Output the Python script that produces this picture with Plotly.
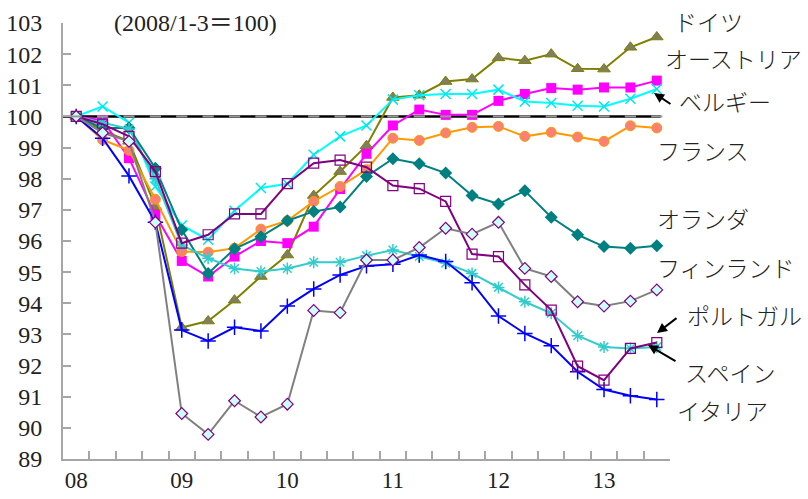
import plotly.graph_objects as go

quarters = [f"{y}Q{q}" for y in range(2008, 2014) for q in range(1, 5)][:23]
year_labels = ["08", "09", "10", "11", "12", "13"]

germany = [100, 99.55, 99.2, 97.1, 93.22, 93.43, 94.1, 94.86, 95.55, 97.46, 98.23, 99.06,
           100.61, 100.68, 101.12, 101.2, 101.88, 101.79, 102.0, 101.53, 101.52, 102.22, 102.55]
austria = [100, 99.88, 98.66, 96.84, 95.36, 94.86, 95.5, 96.0, 95.93, 96.46, 97.67, 98.8,
           99.71, 100.22, 100.05, 100.05, 100.5, 100.72, 100.91, 100.86, 100.93, 100.93, 101.15]
belgium = [100, 100.32, 99.8, 97.75, 96.5, 96.04, 96.97, 97.7, 97.84, 98.77, 99.36, 99.71,
           100.54, 100.68, 100.72, 100.72, 100.86, 100.48, 100.43, 100.34, 100.32, 100.57, 100.88]
france = [100, 99.25, 98.91, 97.34, 95.66, 95.64, 95.77, 96.38, 96.65, 97.27, 97.75, 98.29,
          99.3, 99.23, 99.47, 99.65, 99.68, 99.36, 99.49, 99.34, 99.2, 99.7, 99.63]
netherlands = [100, 99.63, 99.63, 98.34, 96.36, 94.96, 95.75, 96.14, 96.65, 96.95, 97.09, 98.07,
               98.64, 98.48, 98.18, 97.46, 97.19, 97.61, 96.76, 96.2, 95.82, 95.77, 95.85]
finland = [100, 99.47, 99.2, 96.6, 90.46, 89.79, 90.87, 90.35, 90.76, 93.77, 93.7, 95.39,
           95.39, 95.79, 96.41, 96.22, 96.6, 95.12, 94.86, 94.05, 93.91, 94.07, 94.43]
portugal = [100, 99.75, 99.36, 98.23, 95.93, 96.2, 96.87, 96.87, 97.84, 98.5, 98.6, 98.37,
            97.78, 97.68, 97.27, 95.58, 95.5, 94.59, 93.78, 91.98, 91.53, 92.55, 92.74]
spain = [100, 99.8, 99.6, 98.0, 95.87, 95.45, 95.12, 95.02, 95.12, 95.32, 95.32, 95.53,
         95.71, 95.5, 95.29, 94.96, 94.51, 94.05, 93.68, 92.96, 92.6, 92.55, 92.6]
italy = [100, 99.3, 98.09, 96.6, 93.14, 92.79, 93.23, 93.11, 93.91, 94.46, 94.91, 95.2,
         95.25, 95.55, 95.34, 94.66, 93.59, 93.03, 92.64, 91.8, 91.23, 91.03, 90.91]
base = [100] * len(quarters)

series = [
    ("ドイツ", germany, dict(color="#808000", width=2),
     dict(symbol="triangle-up", size=11, color="#7f7f60", line=dict(color="#808000", width=1))),
    ("オーストリア", austria, dict(color="#FF00FF", width=2),
     dict(symbol="square", size=10, color="#FF00FF")),
    ("ベルギー", belgium, dict(color="#00FFFF", width=2),
     dict(symbol="x-thin-open", size=10, color="#00E5EE", line=dict(width=1.5))),
    ("フランス", france, dict(color="#FF9900", width=2),
     dict(symbol="circle", size=10, color="#FA8072", line=dict(color="#FF9900", width=1))),
    ("オランダ", netherlands, dict(color="#008080", width=2),
     dict(symbol="diamond", size=10, color="#008080")),
    ("スペイン", spain, dict(color="#33CCCC", width=2),
     dict(symbol="asterisk-open", size=10, color="#33CCCC", line=dict(width=1.5))),
    ("イタリア", italy, dict(color="#0000FF", width=2),
     dict(symbol="cross-thin-open", size=11, color="#0000FF", line=dict(width=1.5))),
    ("ポルトガル", portugal, dict(color="#800080", width=2),
     dict(symbol="square-open", size=10, color="#800080", line=dict(width=1.2))),
    ("フィンランド", finland, dict(color="#808080", width=2),
     dict(symbol="diamond", size=9, color="#CCFFFF", line=dict(color="#800080", width=1.2))),
]

fig = go.Figure()
xs = list(range(len(quarters)))
xrange = [-0.5, len(quarters) - 0.5]

fig.add_shape(type="line", xref="x", yref="y", x0=-0.5, x1=len(quarters) - 0.85,
              y0=100, y1=100, line=dict(color="black", width=2.5), layer="below")
fig.add_trace(go.Scatter(x=xs, y=base, mode="markers", showlegend=False, xaxis="x2",
                         marker=dict(symbol="line-ew", size=8, color="#999999",
                                     line=dict(color="#999999", width=2)),
                         hoverinfo="skip"))

for name, vals, ln, mk in series:
    fig.add_trace(go.Scatter(x=xs, y=vals, mode="lines+markers", name=name,
                             line=ln, marker=mk, showlegend=False))

tickvals = [i for i, q in enumerate(quarters) if q.endswith("Q1")]

fig.update_layout(
    width=808, height=499,
    margin=dict(l=63, r=138, t=23, b=40, autoexpand=False),
    paper_bgcolor="white", plot_bgcolor="white",
    font=dict(family="Liberation Serif, serif", size=24, color="#222222"),
    xaxis=dict(range=xrange, tickmode="linear", tick0=-0.5, dtick=1,
               showticklabels=False, automargin=False,
               ticks="inside", ticklen=8, tickcolor="#A6A6A6", tickwidth=1.5,
               showgrid=False, zeroline=False,
               showline=True, linecolor="#A6A6A6", linewidth=2),
    xaxis2=dict(range=xrange, overlaying="x", anchor="y", side="bottom",
                tickmode="array", tickvals=tickvals, ticktext=year_labels,
                ticks="", showline=False, showgrid=False, zeroline=False,
                automargin=False, ticklabelstandoff=5,
                tickfont=dict(size=23)),
    yaxis=dict(range=[89, 103], dtick=1, ticks="inside", ticklen=8, automargin=False,
               tickcolor="#A6A6A6", tickwidth=1.5, showgrid=False, zeroline=False,
               showline=True, linecolor="#A6A6A6", linewidth=2,
               ticklabelstandoff=14),
)

jp = dict(family="Noto Sans CJK JP", size=23, color="#222222", weight=300)

def px_x(px):
    return (px - 63) / 607.0

def px_y(py):
    return (459 - py) / 436.0

labels = [
    ("ドイツ", 672, 21), ("オーストリア", 663, 58), ("ベルギー", 677, 101),
    ("フランス", 655, 150), ("オランダ", 655, 218), ("フィンランド", 655, 267),
    ("ポルトガル", 685, 315), ("スペイン", 683, 372), ("イタリア", 675, 410),
]
for text, lx, ly in labels:
    fig.add_annotation(text=text, xref="paper", yref="paper", x=px_x(lx), y=px_y(ly),
                       xanchor="left", yanchor="middle", showarrow=False, font=jp)

fig.add_annotation(text="(2008/1-3＝100)", xref="paper", yref="paper",
                   x=px_x(195), y=px_y(23), xanchor="center", yanchor="middle",
                   showarrow=False,
                   font=dict(family="Liberation Serif, Noto Sans CJK JP", size=24, color="#222222"))

arrows = [(654, 93, 18, 12), (657, 333, 21, -16), (648, 345, 29, 17)]
for tx, ty, ax, ay in arrows:
    fig.add_annotation(text="", xref="paper", yref="paper", x=px_x(tx), y=px_y(ty),
                       ax=ax, ay=ay, showarrow=True, arrowhead=2, arrowsize=1,
                       arrowwidth=2, arrowcolor="black")

fig.write_html("out.html", config={"displayModeBar": False},
               post_script="document.body.style.margin='0';document.body.style.overflow='hidden';")
